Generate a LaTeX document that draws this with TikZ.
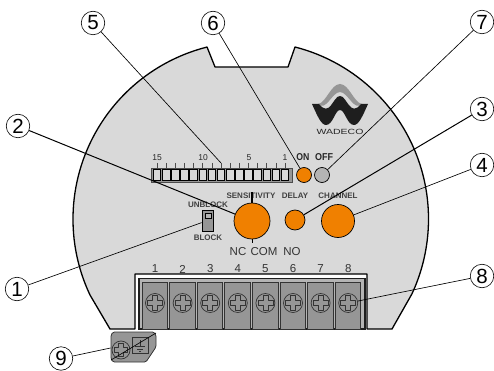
\documentclass[tikz,border=0pt]{standalone}
\usepackage{fontspec}
\setmainfont{Liberation Sans}
\definecolor{orange1}{HTML}{F08000}
\definecolor{gray1}{HTML}{D9D9D9}
\definecolor{gray2}{HTML}{B4B4B4}
\definecolor{gray3}{HTML}{969696}
\definecolor{dark1}{HTML}{1E1E1E}
\begin{document}
\begin{tikzpicture}[x=1pt,y=-1pt,
  lead/.style={draw=black,line width=.65pt},
  num/.style={circle,draw=black,line width=.6pt,fill=white,inner sep=0pt,minimum size=23.5pt,font=\fontsize{20.5}{21}\selectfont},
  knob/.style={circle,draw=black,line width=.7pt,fill=orange1,inner sep=0pt},
  lab/.style={font=\fontsize{8}{8}\selectfont\bfseries,text=black!75,inner sep=0pt},
  dip/.style={font=\fontsize{8.5}{9}\selectfont,text=black!85,inner sep=0pt},
  big/.style={font=\fontsize{11.5}{12}\selectfont,text=black!80,inner sep=0pt},
  term/.style={font=\fontsize{11.5}{12}\selectfont,text=black!80,inner sep=0pt},
  screw/.style={circle,draw=black!80,line width=.7pt,fill=gray3,inner sep=0pt,minimum size=19pt},
  cross/.style={draw=black!80,line width=.6pt,fill=gray3,line join=round},
]
\useasboundingbox (0,0) rectangle (494,371);
% body
\draw[fill=gray1,line width=1.3pt,line join=round]
  (207,47) -- (215,67) -- (288,67) -- (295,47)
  arc[start angle=-75.65,end angle=25,radius=177.5]
  -- (392,329) -- (367,329) -- (367,274) -- (135,274) -- (135,329) -- (110,329)
  -- (90,295)
  arc[start angle=154.7,end angle=255.65,radius=177.5] -- cycle;
% logo
\fill[gray3] (318,104) .. controls (326,103) and (331,84) .. (340,84)
  .. controls (349,84) and (354,103) .. (362,104)
  .. controls (354,112) and (348,92) .. (340,92)
  .. controls (332,92) and (326,112) .. (318,104) -- cycle;
\fill[dark1] (312,104) -- (319,104) .. controls (330,118) and (333,96) .. (340,96)
  .. controls (347,96) and (350,118) .. (361,104) -- (368,104)
  .. controls (363,115) and (359,125) .. (354,125)
  .. controls (347,125) and (345,110) .. (340,110)
  .. controls (335,110) and (333,125) .. (326,125)
  .. controls (321,125) and (317,115) .. (312,104) -- cycle;
\node[inner sep=0pt,font=\fontsize{7.5}{8}\selectfont,text=black!85] (logo) at (340,132) {\scalebox{1.4}[1]{WADECO}};
% dip strip
\draw[fill=gray3,line width=.7pt,draw=black!70] (151,168) rectangle (292,182);
\foreach \i in {0,...,14}{
  \pgfmathsetmacro{\cx}{157+9.14*\i}
  \draw[fill=gray1,draw=black,line width=.7pt] (\cx-3.8,169.5) rectangle (\cx+3.8,180.5);
  \draw[draw=black!70,line width=.6pt] (\cx,163) -- (\cx,168);
}
\coordinate (tick5) at (221,163);
\node[dip] (d15) at (157,158) {15};
\node[dip] (d10) at (203,158) {10};
\node[dip] (d5) at (249,158) {5};
\node[dip] (d1) at (285,158) {1};
% indicators
\node[knob,minimum size=15pt] (on) at (304,175) {};
\node[knob,minimum size=15pt,fill=gray2] (off) at (322,175) {};
\node[inner sep=0pt,font=\fontsize{10}{10}\selectfont\bfseries,text=black!85] (ontxt) at (303,157) {\scalebox{.87}[1]{ON}};
\node[inner sep=0pt,font=\fontsize{10}{10}\selectfont\bfseries,text=black!85] (offtxt) at (324,157) {\scalebox{.9}[1]{OFF}};
% knobs
\node[lab] (lsens) at (251,196) {SENSITIVITY};
\node[lab] (ldel) at (295,196) {DELAY};
\node[lab] (lch) at (338,196) {CHANNEL};
\draw[line width=1.1pt] (252,192) -- (252,203);
\draw[line width=.6pt] (252,239) -- (252,243);
\node[knob,minimum size=36pt] (sens) at (252,221) {};
\node[knob,minimum size=20pt] (delay) at (295,220) {};
\node[knob,minimum size=33pt] (chan) at (338,221) {};
% block switch
\node[lab] (unb) at (208,205) {UNBLOCK};
\node[lab] (blk) at (208,238) {BLOCK};
\node[draw=black,line width=.7pt,fill=gray3,minimum width=11pt,minimum height=21pt,inner sep=0pt] (sw) at (207.5,220.5) {};
\draw[draw=black,fill=gray2,line width=.5pt] (205,213) rectangle (211,218);
% relay labels
\node[big] (nc) at (238,252) {NC};
\node[big] (com) at (264,252) {COM};
\node[big] (no) at (292,252) {NO};
% terminal block
\draw[fill=white,draw=none] (136,275) rectangle (366,329);
\draw[fill=gray2,draw=dark1,line width=1.2pt] (139,278.5) -- (365,278.5) -- (365,329) -- (139,329) -- cycle;
\foreach \i in {1,...,8}{
  \pgfmathsetmacro{\cx}{155+27.6*(\i-1)}
  \draw[fill=gray3,draw=black!80,line width=.7pt] (\cx-13,282) rectangle (\cx+12.5,329);
  \node[term] (t\i) at (\cx,269) {\i};
  \node[screw] (s\i) at (\cx,303) {};
  \draw[cross] (\cx-2.5,295.5) -- (\cx+2.5,295.5) -- (\cx+2.5,300.5) -- (\cx+7.5,300.5) -- (\cx+7.5,305.5) -- (\cx+2.5,305.5) -- (\cx+2.5,310.5) -- (\cx-2.5,310.5) -- (\cx-2.5,305.5) -- (\cx-7.5,305.5) -- (\cx-7.5,300.5) -- (\cx-2.5,300.5) -- cycle;
}
% ground tab
\draw[fill=gray3,draw=black!80,line width=.8pt,line join=round,rounded corners=1.5pt]
  (113,332) -- (154,332) -- (156,335) -- (156,347) -- (146,362) -- (113,362) -- (111,359) -- (111,335) -- cycle;
\node[screw,minimum size=18pt] (gs) at (121,350) {};
\draw[cross] (118.5,343.5) -- (123.5,343.5) -- (123.5,347.5) -- (127.5,347.5) -- (127.5,352.5) -- (123.5,352.5) -- (123.5,356.5) -- (118.5,356.5) -- (118.5,352.5) -- (114.5,352.5) -- (114.5,347.5) -- (118.5,347.5) -- cycle;
\draw[draw=black!80,line width=.6pt] (132,337) rectangle (148,353);
\draw[draw=black!80,line width=.7pt] (140,340) -- (140,346) (135,346) -- (145,346) (137,349) -- (143,349) (139,351.5) -- (141,351.5);
\coordinate (tabA) at (156,333);
\coordinate (tabB) at (111,360);
\draw[lead] (tabA) -- (tabB);
\coordinate (tab9) at (110.5,348);
% callouts
\node[num] (n1) at (17,289) {1};
\node[num] (n2) at (18,126) {2};
\node[num] (n3) at (482,109) {3};
\node[num] (n4) at (482,165) {4};
\node[num] (n5) at (93,23) {5};
\node[num] (n6) at (213,23) {6};
\node[num] (n7) at (482,22) {7};
\node[num] (n8) at (482,276) {8};
\node[num] (n9) at (61,358.5) {9};
\draw[lead] (n1) -- (sw);
\draw[lead,line width=1pt] (n2) -- (sens);
\draw[lead,line width=1pt] (n3) -- (delay);
\draw[lead] (n4) -- (chan);
\draw[lead] (n5) -- (tick5);
\draw[lead] (n6) -- (on);
\draw[lead] (n7) -- (off);
\draw[lead] (n8) -- (s8);
\draw[lead] (n9) -- (tab9);
\end{tikzpicture}
\end{document}
